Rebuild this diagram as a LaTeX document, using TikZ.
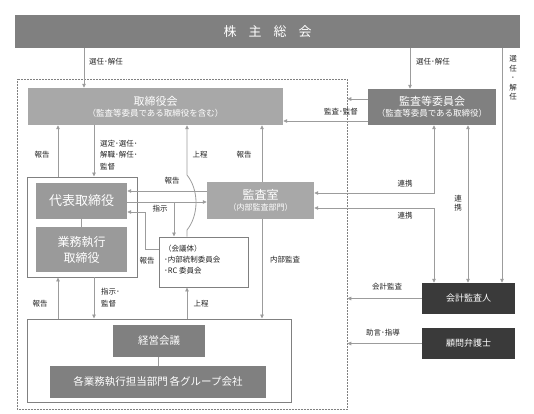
\documentclass[tikz,border=0pt]{standalone}
\usepackage{fontspec}
\setmainfont{Noto Sans CJK JP}
\usetikzlibrary{arrows.meta}
\definecolor{linegray}{HTML}{9C9C9C}
\definecolor{lightbox}{HTML}{A8A8A8}
\definecolor{midbox}{HTML}{9A9A9A}
\definecolor{darkbox}{HTML}{808080}
\definecolor{blackbox}{HTML}{3A3A3A}
\definecolor{labeltext}{HTML}{222222}
\tikzset{
  box/.style={fill=#1, text=white, align=center, inner sep=0pt},
  frame/.style={draw=darkbox, line width=0.9pt, inner sep=0pt},
  arr/.style={draw=linegray, line width=0.8pt, -{Triangle[length=4pt,width=3.5pt]}},
  arrs/.style={draw=linegray, line width=0.8pt, {Triangle[length=4pt,width=3.5pt]}-{Triangle[length=4pt,width=3.5pt]}},
  lbl/.style={text=labeltext, font=\fontsize{7.5}{9.5}\selectfont, inner sep=0pt, align=center},
}
\begin{document}
\begin{tikzpicture}[x=1pt,y=-1pt]
		%%%%% START %%%%%
		\useasboundingbox (0,0) rectangle (534,413);
		
		% columns and rows
		\coordinate (xsen) at (84,0);
		\coordinate (xkan) at (410,0);
		\coordinate (xright) at (502,0);
		\coordinate (xrep) at (58,0);
		\coordinate (xdown) at (94,0);
		\coordinate (xjo) at (187,0);
		\coordinate (xkr) at (262,0);
		\coordinate (xshiji) at (174,0);
		\coordinate (xwrap) at (145,0);
		\coordinate (xren1) at (434,0);
		\coordinate (xren2) at (468,0);
		\coordinate (ykan1) at (0,99);
		\coordinate (ykan2) at (0,121);
		\coordinate (yhou) at (0,191);
		\coordinate (yshiji) at (0,202);
		\coordinate (yhou2) at (0,212);
		\coordinate (ykaigi) at (0,249);
		\coordinate (yren1) at (0,193);
		\coordinate (yren2) at (0,208);
		
		% frames
		\node[draw=darkbox, densely dotted, line width=0.5pt, minimum width=330pt, minimum height=330pt, inner sep=0pt] (group) at (182,244) {};
		\node[frame, minimum width=110pt, minimum height=100pt] (dframe) at (82,227) {};
		\node[frame, minimum width=264pt, minimum height=83pt] (kframe) at (159,360.5) {};
		
		% boxes
		\node[box=darkbox, minimum width=505pt, minimum height=33pt, font=\fontsize{13}{15}\selectfont] (soukai) at (267.5,31.5) {株\hspace{12pt}主\hspace{12pt}総\hspace{12pt}会};
		\node[box=lightbox, minimum width=255pt, minimum height=37pt] (torishimari) at (155.5,106.5) {{\fontsize{11}{13}\selectfont 取締役会}\\[-1pt]{\fontsize{8.5}{10}\selectfont （監査等委員である取締役を含む）}};
		\node[box=darkbox, minimum width=128pt, minimum height=36pt] (kansatou) at (432,107) {{\fontsize{11}{13}\selectfont 監査等委員会}\\[-1pt]{\fontsize{8.5}{10}\selectfont （監査等委員である取締役）}};
		\node[box=midbox, minimum width=91pt, minimum height=36pt, font=\fontsize{13}{15}\selectfont] (daihyo) at (81.5,201) {代表取締役};
		\node[box=midbox, minimum width=91pt, minimum height=45pt, font=\fontsize{12}{16}\selectfont] (gyomu) at (81.5,249.5) {業務執行\\取締役};
		\node[box=lightbox, minimum width=107pt, minimum height=37pt] (kansashitsu) at (260.5,200.5) {{\fontsize{12}{14}\selectfont 監査室}\\[-1pt]{\fontsize{8}{10}\selectfont （内部監査部門）}};
		\node[draw=darkbox, line width=0.9pt, minimum width=89pt, minimum height=50pt, inner sep=0pt] (kaigitai) at (203.5,262) {};
		\node[lbl, align=left, anchor=north west, font=\fontsize{7.5}{11}\selectfont] (kaigitaitext) at (164,245) {（会議体）\\･内部統制委員会\\･RC 委員会};
		\node[box=darkbox, minimum width=92pt, minimum height=32pt, font=\fontsize{10.5}{12}\selectfont] (keieikaigi) at (159,341) {経営会議};
		\node[box=darkbox, minimum width=216pt, minimum height=32pt, font=\fontsize{10.5}{12}\selectfont] (bumon) at (158,382) {各業務執行担当部門\,各グループ会社};
		\node[box=blackbox, minimum width=93pt, minimum height=31pt, font=\fontsize{9}{11}\selectfont] (kaikei) at (468.5,298.5) {会計監査人};
		\node[box=blackbox, minimum width=93pt, minimum height=31pt, font=\fontsize{9}{11}\selectfont] (bengoshi) at (468.5,343.5) {顧問弁護士};
		
		% plain links
		\draw[draw=linegray, line width=0.8pt] (daihyo) -- (gyomu);
		\draw[draw=linegray, line width=0.8pt] (keieikaigi) -- (bumon);
		
		% from shareholders
		\draw[arr] (soukai.south -| xsen) -- (torishimari.north -| xsen);
		\draw[arr] (soukai.south -| xkan) -- (kansatou.north -| xkan);
		\draw[arr] (soukai.south -| xright) -- (kaikei.north -| xright);
		
		% audit committee
		\draw[arr] (kansatou.west |- ykan1) -- (group.east |- ykan1);
		\draw[arr] (kansatou.west |- ykan2) -- (torishimari.east |- ykan2);
		
		% board
		\draw[arr] (dframe.north -| xrep) -- (torishimari.south -| xrep);
		\draw[arr] (torishimari.south -| xdown) -- (dframe.north -| xdown);
		\draw[arr] (kaigitai.north -| xjo) -- (187,230) .. controls (199,215) and (199,190) .. (187,175) -- (torishimari.south -| xjo);
		\draw[arr] (kansashitsu.north -| xkr) -- (torishimari.south -| xkr);
		
		% representative director
		\draw[arr] (kansashitsu.west |- yhou) -- (daihyo.east |- yhou);
		\draw[arr] (daihyo.east |- yshiji) -- (kansashitsu.west |- yshiji);
		\draw[arr] (xshiji |- yshiji) -- (kaigitai.north -| xshiji);
		\draw[arr] (kaigitai.west |- ykaigi) -- (xwrap |- ykaigi) -- (xwrap |- yhou2) -- (daihyo.east |- yhou2);
		
		% cooperation
		\draw[arrs] (kansashitsu.east |- yren1) -- (xren1 |- yren1) -- (kansatou.south -| xren1);
		\draw[arrs] (kansashitsu.east |- yren2) -- (xren1 |- yren2) -- (kaikei.north -| xren1);
		\draw[arrs] (kansatou.south -| xren2) -- (kaikei.north -| xren2);
		
		% management
		\draw[arr] (kframe.north -| xrep) -- (dframe.south -| xrep);
		\draw[arr] (dframe.south -| xdown) -- (kframe.north -| xdown);
		\draw[arr] (kframe.north -| xjo) -- (kaigitai.south -| xjo);
		\draw[arr] (kansashitsu.south -| xkr) -- (kframe.north -| xkr);
		
		% outside
		\draw[arr] (kaikei.west) -- (group.east |- kaikei.west);
		\draw[arr] (bengoshi.west) -- (group.east |- bengoshi.west);
		
		% labels
		\node[lbl, anchor=west] (lsen1) at (89,62) {選任･解任};
		\node[lbl, anchor=west] (lsen2) at (416,62) {選任･解任};
		\node[lbl] (lsen3) at (513,78) {選\\任\\･\\解\\任};
		\node[lbl] (lkan) at (341,112) {監査･監督};
		\node[lbl] (lhou1) at (42,155) {報告};
		\node[lbl, anchor=west, align=left, font=\fontsize{7.5}{11.5}\selectfont] (lsentei) at (100,155) {選定･選任･\\解職･解任･\\監督};
		\node[lbl] (ljo1) at (200,155) {上程};
		\node[lbl] (lhou2) at (244,155) {報告};
		\node[lbl] (lhou3) at (172,181) {報告};
		\node[lbl] (lshiji) at (160,209) {指示};
		\node[lbl] (lhou4) at (147,261) {報告};
		\node[lbl] (lren1) at (405,184) {連携};
		\node[lbl] (lren2) at (405,216) {連携};
		\node[lbl] (lren3) at (458,203) {連\\携};
		\node[lbl] (lnaibu) at (285,260) {内部監査};
		\node[lbl] (lhou5) at (40,304) {報告};
		\node[lbl, anchor=west, align=left, font=\fontsize{7.5}{12}\selectfont] (lshiji2) at (101,298) {指示･\\監督};
		\node[lbl] (ljo2) at (201,304) {上程};
		\node[lbl] (lkaikei) at (387,287) {会計監査};
		\node[lbl] (ljogen) at (383,333) {助言･指導};
		
		%%%%% END %%%%%
\end{tikzpicture}
\end{document}
